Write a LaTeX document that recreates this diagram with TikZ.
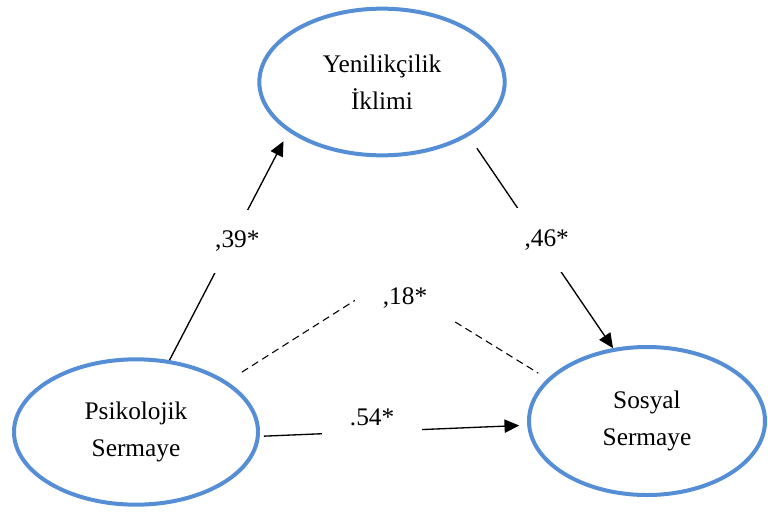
\documentclass[tikz,border=0pt]{standalone}
\usepackage{fontspec}
\setmainfont{Liberation Serif}
\usepackage{tikz}
\usetikzlibrary{shapes.geometric,arrows.meta}
\definecolor{ellblue}{RGB}{85,142,213}

\begin{document}
\begin{tikzpicture}[x=0.75pt, y=-0.75pt,
    latent/.style={ellipse, draw=ellblue, line width=3pt, fill=white, align=center, font=\fontsize{19}{27.75}\selectfont},
    coef/.style={fill=white, inner xsep=21pt, inner ysep=16pt, font=\fontsize{19}{22}\selectfont},
    effect/.style={-{Triangle[length=11pt,width=10pt]}, line width=1pt}]
    \useasboundingbox (0,0) rectangle (768,515);

    \node[latent, minimum width=184pt, minimum height=110pt] (yenilik) at (382,82) {Yenilikçilik\\İklimi};
    \node[latent, minimum width=183pt, minimum height=109pt] (psikolojik) at (136,432) {Psikolojik\\Sermaye};
    \node[latent, minimum width=177pt, minimum height=111pt] (sosyal) at (647,421) {Sosyal\\Sermaye};
    \coordinate (apex) at (387,280);

    \draw[effect, shorten >=8pt] (psikolojik.65) -- node[coef, pos=0.52, xshift=4.5pt] {,39*} (yenilik.208.5);
    \draw[effect, shorten <=11pt] (yenilik.-32) -- node[coef, pos=0.49, xshift=5.5pt] {,46*} (sosyal.115);
    \draw[effect, shorten <=3pt, shorten >=6pt] (psikolojik.-2) -- node[coef, pos=0.42, yshift=10.5pt] {.54*} (sosyal.182);

    \draw[line width=0.8pt, dash pattern=on 5.5pt off 3.5pt, shorten <=13pt, shorten >=8pt]
        (psikolojik.29) -- (apex) node[coef, xshift=13.5pt, yshift=-13.5pt] {,18*} -- (sosyal.157);
\end{tikzpicture}
\end{document}
